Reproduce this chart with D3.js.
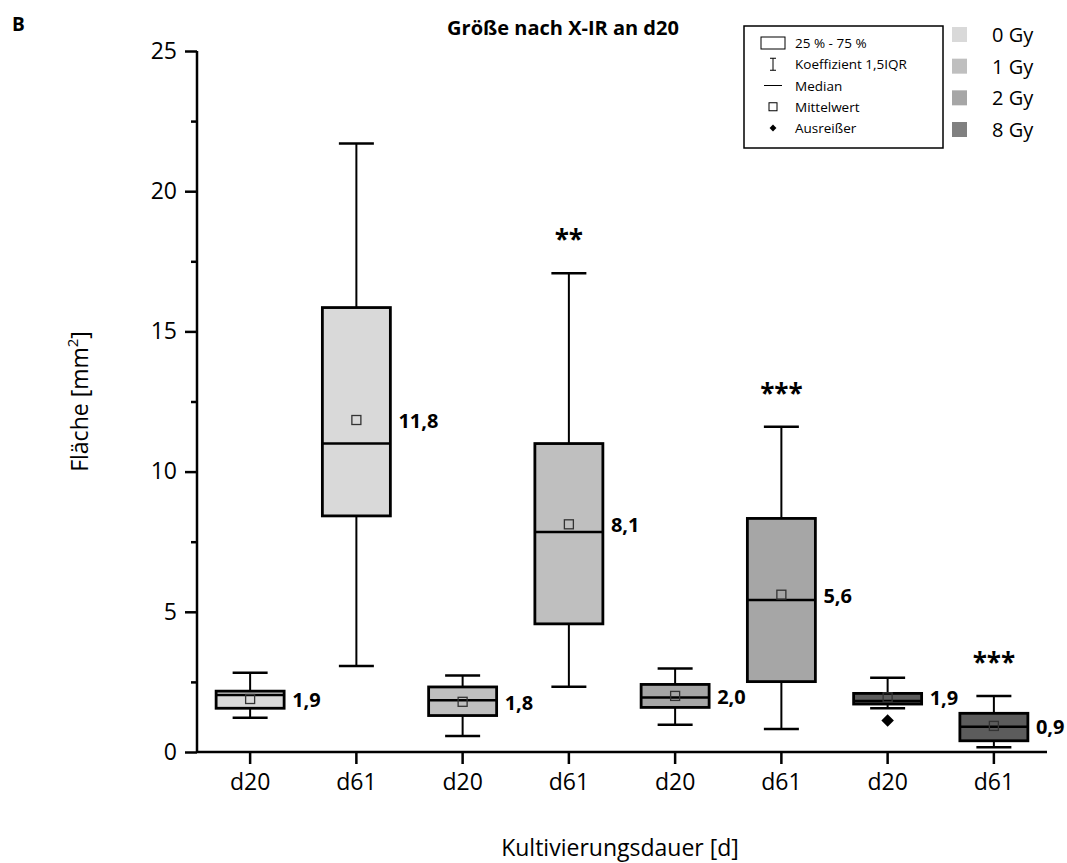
<!DOCTYPE html>
<html>
<head>
<meta charset="utf-8">
<script src="https://cdn.jsdelivr.net/npm/d3@7"></script>
<style>
  body { margin: 0; background: #fff; }
  svg text { font-family: "Open Sans", "Noto Sans", sans-serif; fill: #000; }
</style>
</head>
<body>
<div id="chart"></div>
<script>
// data
const categories = ["d20", "d61", "d20", "d61", "d20", "d61", "d20", "d61"];
const doses = ["0 Gy", "0 Gy", "1 Gy", "1 Gy", "2 Gy", "2 Gy", "8 Gy", "8 Gy"];
const whiskerLow = [1.22, 3.07, 0.57, 2.33, 0.97, 0.82, 1.56, 0.17];
const q1 = [1.56, 8.42, 1.30, 4.57, 1.59, 2.51, 1.71, 0.40];
const median = [2.03, 11.0, 1.85, 7.85, 1.94, 5.42, 1.82, 0.90];
const q3 = [2.17, 15.85, 2.32, 11.0, 2.41, 8.33, 2.09, 1.38];
const whiskerHigh = [2.83, 21.7, 2.73, 17.07, 2.98, 11.6, 2.65, 2.0];
const mean = [1.89, 11.84, 1.79, 8.12, 2.0, 5.61, 1.95, 0.93];
const meanLabels = ["1,9", "11,8", "1,8", "8,1", "2,0", "5,6", "1,9", "0,9"];
const outliers = [[], [], [], [], [], [], [1.12], []];
const stars = ["", "", "", "**", "", "***", "", "***"];
const doseNames = ["0 Gy", "1 Gy", "2 Gy", "8 Gy"];
const doseColors = ["#d9d9d9", "#bfbfbf", "#a6a6a6", "#5c5c5c"];
const legendSwatch = ["#d9d9d9", "#bfbfbf", "#a6a6a6", "#808080"];
const yTicks = [0, 5, 10, 15, 20, 25];
const yMinorTicks = [2.5, 7.5, 12.5, 17.5, 22.5];

const width = 1067, height = 863;
const margin = { top: 51, right: 20, bottom: 111, left: 197 };

const svg = d3.select("#chart").append("svg")
  .attr("width", width).attr("height", height);

const x = d3.scaleBand()
  .domain(d3.range(categories.length))
  .range([margin.left, width - margin.right])
  .padding(0);
const y = d3.scaleLinear().domain([0, 25]).range([height - margin.bottom, margin.top]);
const color = d3.scaleOrdinal().domain(doseNames).range(doseColors);

const boxW = 68, capW = 35;

// axes
const xAxis = svg.append("g")
  .attr("transform", `translate(0,${y(0)})`)
  .call(d3.axisBottom(x).tickSize(12).tickPadding(10).tickFormat(i => categories[i]));
xAxis.select(".domain").attr("d", `M${margin.left},0H${width - margin.right}`).attr("stroke-width", 2.5);
xAxis.selectAll(".tick line").attr("stroke-width", 2.5);
xAxis.selectAll(".tick text").attr("font-size", 23);

const yAxis = svg.append("g")
  .attr("transform", `translate(${margin.left},0)`)
  .call(d3.axisLeft(y).tickValues(yTicks).tickSize(12).tickPadding(8));
yAxis.select(".domain").attr("d", `M0,${y(0)}V${y(25)}`).attr("stroke-width", 2.5);
yAxis.selectAll(".tick line").attr("stroke-width", 2.5);
yAxis.selectAll(".tick text").attr("font-size", 23);
svg.append("g")
  .attr("transform", `translate(${margin.left},0)`)
  .call(d3.axisLeft(y).tickValues(yMinorTicks).tickSize(6).tickFormat(""))
  .call(g => g.select(".domain").remove())
  .selectAll(".tick line").attr("stroke-width", 2.5);

// boxes
const idx = d3.range(categories.length);
const boxes = svg.append("g").selectAll("g").data(idx).join("g")
  .attr("transform", i => `translate(${x(i) + x.bandwidth() / 2},0)`);

boxes.append("line")
  .attr("y1", i => y(whiskerLow[i])).attr("y2", i => y(whiskerHigh[i]))
  .attr("stroke", "#000").attr("stroke-width", 2);
boxes.append("line")
  .attr("x1", -capW / 2).attr("x2", capW / 2)
  .attr("y1", i => y(whiskerHigh[i])).attr("y2", i => y(whiskerHigh[i]))
  .attr("stroke", "#000").attr("stroke-width", 2.5);
boxes.append("line")
  .attr("x1", -capW / 2).attr("x2", capW / 2)
  .attr("y1", i => y(whiskerLow[i])).attr("y2", i => y(whiskerLow[i]))
  .attr("stroke", "#000").attr("stroke-width", 2.5);
boxes.append("rect")
  .attr("x", -boxW / 2).attr("width", boxW)
  .attr("y", i => y(q3[i])).attr("height", i => y(q1[i]) - y(q3[i]))
  .attr("fill", i => color(doses[i]))
  .attr("stroke", "#000").attr("stroke-width", 2.8);
boxes.append("line")
  .attr("x1", -boxW / 2).attr("x2", boxW / 2)
  .attr("y1", i => y(median[i])).attr("y2", i => y(median[i]))
  .attr("stroke", "#000").attr("stroke-width", 2.5);
boxes.append("rect")
  .attr("x", -4.5).attr("width", 9)
  .attr("y", i => y(mean[i]) - 4.5).attr("height", 9)
  .attr("fill", "none").attr("stroke", "#333").attr("stroke-width", 1.3);
boxes.append("text")
  .attr("x", boxW / 2 + 8)
  .attr("y", i => y(mean[i]) + 8)
  .attr("font-size", 20).attr("font-weight", "bold")
  .text(i => meanLabels[i]);
boxes.append("text")
  .attr("text-anchor", "middle")
  .attr("y", i => y(whiskerHigh[i]) - 24)
  .attr("font-size", 26).attr("font-weight", "bold")
  .text(i => stars[i]);
boxes.selectAll("path.outlier").data(i => outliers[i]).join("path")
  .attr("class", "outlier")
  .attr("d", d3.symbol(d3.symbolDiamond2, 100))
  .attr("transform", v => `translate(0,${y(v)})`)
  .attr("fill", "#000");

// titles
svg.append("text").attr("x", 12).attr("y", 31)
  .attr("font-size", 19).attr("font-weight", "bold").text("B");
svg.append("text").attr("x", 563).attr("y", 35).attr("text-anchor", "middle")
  .attr("font-size", 20).attr("font-weight", "bold").text("Größe nach X-IR an d20");
svg.append("text").attr("x", 620).attr("y", 856).attr("text-anchor", "middle")
  .attr("font-size", 23).text("Kultivierungsdauer [d]");
const yt = svg.append("text")
  .attr("transform", `translate(88,${(y(0) + y(25)) / 2}) rotate(-90)`)
  .attr("text-anchor", "middle").attr("font-size", 23);
yt.append("tspan").text("Fläche [mm");
yt.append("tspan").attr("dy", -10).attr("font-size", 15).text("2");
yt.append("tspan").attr("dy", 10).text("]");

// key legend
const key = svg.append("g").attr("transform", "translate(744,26)");
key.append("rect").attr("width", 199).attr("height", 122)
  .attr("fill", "#fff").attr("stroke", "#000").attr("stroke-width", 1.5);
const keyLabels = ["25 % - 75 %", "Koeffizient 1,5IQR", "Median", "Mittelwert", "Ausreißer"];
const keyY = d3.scalePoint().domain(d3.range(5)).range([17, 102]);
key.selectAll("text").data(keyLabels).join("text")
  .attr("x", 51).attr("y", (d, i) => keyY(i) + 5)
  .attr("font-size", 13.5).text(d => d);
key.append("rect").attr("x", 17).attr("y", keyY(0) - 6).attr("width", 24).attr("height", 12)
  .attr("fill", "#fff").attr("stroke", "#000").attr("stroke-width", 1);
key.append("path")
  .attr("d", `M26,${keyY(1) - 6}H32M29,${keyY(1) - 6}V${keyY(1) + 6}M26,${keyY(1) + 6}H32`)
  .attr("stroke", "#000").attr("stroke-width", 1).attr("fill", "none");
key.append("line").attr("x1", 20).attr("x2", 38)
  .attr("y1", keyY(2)).attr("y2", keyY(2)).attr("stroke", "#000").attr("stroke-width", 1);
key.append("rect").attr("x", 25).attr("y", keyY(3) - 4).attr("width", 8).attr("height", 8)
  .attr("fill", "#fff").attr("stroke", "#000").attr("stroke-width", 1);
key.append("path").attr("d", d3.symbol(d3.symbolDiamond2, 30))
  .attr("transform", `translate(29,${keyY(4)})`).attr("fill", "#000");

// dose legend
const dl = svg.append("g").attr("transform", "translate(952,27)");
const dy = d3.scalePoint().domain(doseNames).range([0, 95]);
dl.selectAll("rect").data(doseNames).join("rect")
  .attr("y", d => dy(d)).attr("width", 15).attr("height", 15)
  .attr("fill", (d, i) => legendSwatch[i]);
dl.selectAll("text").data(doseNames).join("text")
  .attr("x", 40).attr("y", d => dy(d) + 15)
  .attr("font-size", 20).text(d => d);
</script>
</body>
</html>
